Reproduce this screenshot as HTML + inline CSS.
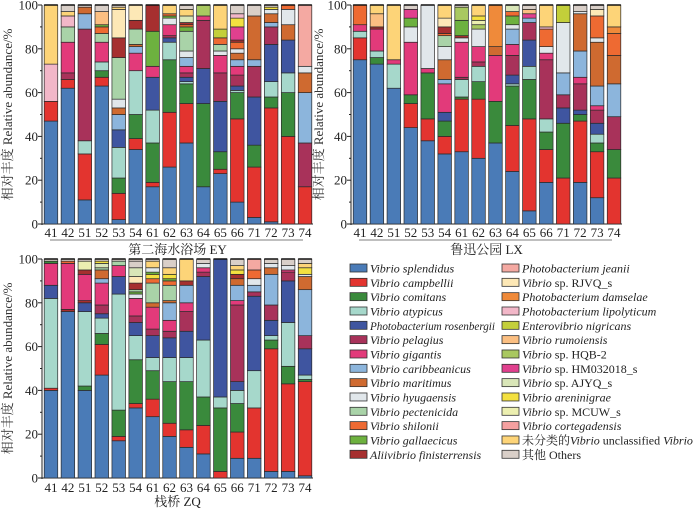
<!DOCTYPE html>
<html><head><meta charset="utf-8"><style>
body{margin:0;background:#fff;}
svg text{font-family:"Liberation Serif","Noto Serif CJK SC","Noto Sans CJK SC",serif;}
</style></head><body>
<svg id="chart" width="700" height="508" xmlns="http://www.w3.org/2000/svg"></svg>
<script>
const categories = ["41","42","51","52","53","54","61","62","63","64","65","66","71","72","73","74"];
const speciesNames = ["Vibrio splendidus","Vibrio campbellii","Vibrio comitans","Vibrio atypicus","Photobacterium rosenbergii","Vibrio pelagius","Vibrio gigantis","Vibrio caribbeanicus","Vibrio maritimus","Vibrio hyugaensis","Vibrio pectenicida","Vibrio shilonii","Vibrio gallaecicus","Aliivibrio finisterrensis","Photobacterium jeanii","Vibrio sp. RJVQ_s","Photobacterium damselae","Photobacterium lipolyticum","Enterovibrio nigricans","Vibrio rumoiensis","Vibrio sp. HQB-2","Vibrio sp. HM032018_s","Vibrio sp. AJYQ_s","Vibrio areninigrae","Vibrio sp. MCUW_s","Vibrio cortegadensis","未分类的Vibrio unclassified Vibrio","其他 Others"];
const colors = ["#4a7bb7","#e3342f","#3a8a3c","#a6d8cb","#3f55a0","#a8325a","#e23a7a","#8cb5dc","#cf6a30","#e1e7eb","#a9d3a8","#ee6a32","#6db13f","#a62f2f","#f4a9a2","#fde8b6","#ef8a3a","#f2b7c8","#c3cf3a","#fbbf82","#a9c860","#e0408e","#d9e6b8","#f3e040","#ecefb0","#f4a0a0","#fdd478","#d9cfc8"];
// each sample: [speciesIndex, percent] pairs, bottom to top
const EY = [
[[0,47],[1,9],[17,17],[26,27]],
[[0,62],[1,4],[5,3],[6,14],[10,7],[17,5],[26,2],[27,3]],
[[0,11],[1,21],[3,6],[5,51],[7,7],[8,3],[27,1]],
[[0,63],[1,4],[2,3],[3,4],[6,9],[10,4],[11,3],[12,1],[19,6],[27,3]],
[[0,2],[1,12],[2,7],[3,14],[4,8],[7,7],[8,3],[9,4],[10,19],[13,9],[15,13],[26,1],[27,1]],
[[0,34],[1,5],[2,11],[3,20],[6,8],[7,3],[8,1],[10,7],[13,4],[15,7]],
[[0,17],[1,2],[2,18],[3,15],[4,15],[6,5],[12,16],[13,12]],
[[0,26],[1,25],[2,24],[3,8],[4,2],[5,1],[6,5],[9,3],[12,1],[11,1],[26,4]],
[[0,37],[1,18],[2,9],[3,1],[4,2],[5,2],[6,3],[7,4],[9,3],[10,9],[12,2],[11,1],[13,1],[22,3],[26,3],[27,2]],
[[0,17],[2,38],[4,16],[5,22],[6,2],[20,5]],
[[0,23],[1,2],[2,8],[4,23],[5,13],[6,8],[9,2],[10,3],[11,3],[18,4],[26,11]],
[[0,10],[1,38],[2,12],[3,1],[4,2],[5,5],[6,4],[7,3],[8,3],[9,2],[11,3],[13,1],[21,6],[23,4],[17,2],[27,4]],
[[0,3],[1,23],[2,10],[4,22],[5,14],[7,3],[8,20],[27,5]],
[[0,1],[1,52],[2,5],[3,7],[4,17],[5,8],[7,2],[8,4],[9,2],[23,1],[27,1]],
[[1,40],[2,20],[3,9],[4,15],[8,7],[9,7],[11,2]],
[[1,17],[5,20],[7,23],[8,9],[9,3],[14,28]]
];
const LX = [
[[0,75],[1,10],[3,3],[6,3],[11,9]],
[[0,73],[2,3],[3,3],[6,10],[13,1],[19,6],[26,4]],
[[0,62],[3,11],[6,2],[26,25]],
[[0,44],[1,11],[2,4],[6,24],[9,7],[12,4],[21,4],[27,2]],
[[0,38],[1,10],[2,21],[6,2],[9,29]],
[[0,32],[1,8],[2,7],[4,4],[6,13],[7,2],[8,9],[9,6],[10,5],[11,1],[13,3],[15,4],[26,6]],
[[0,33],[1,24],[2,1],[3,8],[5,1],[6,16],[9,2],[13,1],[12,7],[20,6],[27,1]],
[[0,30],[1,27],[2,8],[3,7],[5,2],[6,7],[9,8],[20,2],[24,2],[23,2],[26,5]],
[[0,37],[2,19],[6,21],[8,4],[16,19]],
[[0,24],[1,21],[2,18],[3,1],[4,4],[5,9],[6,5],[7,7],[9,2],[12,4],[11,2],[22,3]],
[[0,6],[1,42],[2,18],[3,6],[4,12],[5,8],[7,2],[21,2],[19,2],[27,2]],
[[0,19],[1,15],[2,8],[3,6],[5,27],[6,3],[9,3],[11,8],[17,1],[26,10]],
[[1,21],[2,25],[4,7],[5,6],[7,10],[9,23],[18,8]],
[[0,19],[1,28],[2,3],[4,2],[5,12],[6,3],[7,12],[8,17],[9,1],[27,3]],
[[0,12],[1,21],[2,4],[3,4],[4,5],[5,6],[6,2],[7,9],[8,20],[9,2],[11,10],[15,3],[27,2]],
[[1,21],[2,13],[5,15],[7,15],[8,13],[11,10],[16,3],[26,10]]
];
const ZQ = [
[[0,40],[1,1],[3,41],[4,6],[6,10],[2,1],[27,1]],
[[0,76],[13,1],[6,21],[11,1],[27,1]],
[[0,40],[2,2],[3,34],[4,4],[13,1],[6,12],[13,2],[24,4],[27,1]],
[[0,47],[1,14],[2,5],[3,7],[4,2],[5,4],[6,10],[7,2],[8,4],[10,1],[22,2],[23,1],[27,1]],
[[0,17],[1,2],[2,12],[3,53],[4,8],[6,5],[10,2],[27,1]],
[[0,32],[1,2],[2,20],[3,11],[4,6],[5,3],[6,8],[9,2],[12,1],[10,1],[13,3],[15,3],[22,4],[27,3]],
[[0,28],[1,8],[2,13],[3,6],[4,10],[5,3],[6,10],[8,2],[10,9],[11,2],[23,2],[12,1],[9,2],[26,3],[27,1]],
[[0,19],[1,6],[2,19],[3,11],[4,9],[5,3],[6,5],[7,8],[8,1],[10,7],[11,2],[12,1],[23,2],[26,3],[27,4]],
[[0,14],[1,8],[2,22],[3,11],[4,12],[5,9],[6,4],[7,8],[13,2],[26,10]],
[[0,11],[1,13],[2,13],[3,26],[4,29],[5,2],[6,2],[9,2],[27,2]],
[[1,3],[2,29],[3,5],[4,63]],
[[0,9],[1,12],[2,13],[3,6],[4,4],[5,35],[6,2],[7,7],[8,3],[13,2],[23,2],[26,2],[27,3]],
[[0,9],[1,23],[3,17],[4,34],[5,2],[7,3],[9,3],[11,4],[14,5]],
[[0,3],[1,56],[2,4],[3,2],[4,7],[5,7],[7,14],[8,3],[9,2],[27,2]],
[[0,3],[1,40],[2,8],[3,20],[4,19],[5,4],[6,1],[9,2],[27,3]],
[[0,1],[1,43],[2,1],[3,2],[4,12],[5,6],[7,21],[8,6],[9,1],[23,3],[26,2],[27,2]]
];
const yTicks = [0,20,40,60,80,100];

const NS="http://www.w3.org/2000/svg";
const svg=document.getElementById('chart');
function mk(tag,attrs,parent){const e=document.createElementNS(NS,tag);for(const k in attrs)e.setAttribute(k,attrs[k]);(parent||svg).appendChild(e);return e;}

function panel(id,data,x0,x1,yTop,yBot,title,titleX,labelY,titleY,line){
  const g=mk('g',{});
  
  
  const yS=v=>yBot-(v/100)*(yBot-yTop);
  const slot=(x1-x0)/categories.length;
  const bw=slot*0.8;
  const ax=mk('line',{x1:x0,y1:yTop,x2:x0,y2:yBot+1,stroke:'#222','stroke-width':1},g);
  
  
  mk('line',{x1:x0,y1:yBot,x2:x1,y2:yBot,stroke:'#222','stroke-width':1},g);
  for(let v=0;v<=100;v+=10){
    mk('line',{x1:x0-(v%20==0?4:2),y1:yS(v),x2:x0,y2:yS(v),stroke:'#222','stroke-width':1},g);
  }
  yTicks.forEach(v=>{
    const t=mk('text',{x:x0-4,y:yS(v)+4.5,'font-size':13,'text-anchor':'end',fill:'#222'},g);
    t.textContent=v;
    
    
  });
  data.forEach((bar,i)=>{
    const bx=x0+slot*i+(slot-bw)/2+0.5;
    let acc=0;
    const bg=mk('g',{},g);
    
    
    bar.forEach(([s,v])=>{
      const r=mk('rect',{x:bx,y:yS(acc+v),width:bw,height:yS(acc)-yS(acc+v),fill:colors[s],stroke:'#2a2a2a','stroke-width':0.7},bg);
      
      
      acc+=v;
    });
    if(acc<100){
      const r=mk('rect',{x:bx,y:yS(100),width:bw,height:yS(acc)-yS(100),fill:colors[27],stroke:'#2a2a2a','stroke-width':0.7},bg);
      
      
    }
    mk('line',{x1:bx,y1:yS(100),x2:bx+bw,y2:yS(100),stroke:'#111','stroke-width':1.5},bg);
    const t=mk('text',{x:bx+bw/2,y:labelY,'font-size':13,'text-anchor':'middle',fill:'#222'},g);
    t.textContent=categories[i];
    
    
  });
  if(line){mk('line',{x1:x0+8,y1:labelY+3,x2:x1-10,y2:labelY+3,stroke:'#999','stroke-width':1.2},g);}
  const tt=mk('text',{x:(x0+x1)/2,y:titleY,'font-size':13,'text-anchor':'middle',fill:'#222'},g);
  tt.textContent=title;
  
  
  const yt=mk('text',{x:titleX,y:(yTop+yBot)/2,'font-size':13,'text-anchor':'middle',fill:'#333',transform:`rotate(-90 ${titleX} ${(yTop+yBot)/2})`},g);
  yt.textContent='相对丰度 Relative abundance/%';
  
  
}
panel('ey',EY,42,313,5,224,'第二海水浴场 EY',12,237,254,true);
panel('lx',LX,351,622,5,224,'鲁迅公园 LX',323,237,254,true);
panel('zq',ZQ,42,313,259,478,'栈桥 ZQ',12,492,506,false);

const lg=mk('g',{});


speciesNames.forEach((n,i)=>{
  const col=i<14?0:1, row=i<14?i:i-14;
  const sx=col?502:350, cy=268+row*14.33;
  const e=mk('g',{},lg);
  
  
  mk('rect',{x:sx,y:cy-4,width:17,height:8,fill:colors[i],stroke:'#333','stroke-width':0.8},e);
  const attrs={x:sx+20,y:cy+4.5,'font-size':12,fill:'#222'};
  if(i===4){attrs.textLength=125;attrs.lengthAdjust='spacingAndGlyphs';}
  const t=mk('text',attrs,e);
  let html;
  if(i===26) html='未分类的<tspan font-style="italic">Vibrio</tspan> unclassified <tspan font-style="italic">Vibrio</tspan>';
  else if(i===27) html='其他 Others';
  else if(n.indexOf(' sp. ')>0) html='<tspan font-style="italic">Vibrio</tspan> sp. '+n.split(' sp. ')[1];
  else html='<tspan font-style="italic">'+n+'</tspan>';
  t.innerHTML=html;
});
</script>
</body></html>
